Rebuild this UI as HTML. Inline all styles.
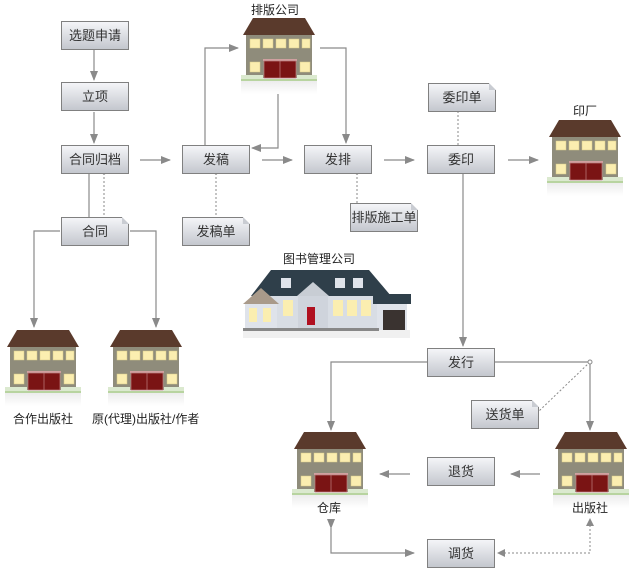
<!DOCTYPE html>
<html><head><meta charset="utf-8"><style>
body{margin:0;width:635px;height:573px;background:#fff;position:relative;overflow:hidden;font-family:"Liberation Sans","Noto Sans CJK SC",sans-serif;}
.b{position:absolute;width:66px;height:27px;border:1px solid #808080;background:linear-gradient(#f4f5f8,#c4c7ce);font-size:13px;color:#333;text-align:center;line-height:27px;box-sizing:content-box;}
.n::after{content:"";position:absolute;right:-1px;top:-1px;width:0;height:0;border-left:7px solid #c9ccd2;border-top:7px solid #fff;}
.l{position:absolute;font-size:12px;color:#222;white-space:nowrap;}
svg{position:absolute;left:0;top:0;}
</style></head><body>
<svg width="635" height="573">
<defs>
<marker id="a" markerWidth="10" markerHeight="10" refX="9" refY="5" orient="auto" markerUnits="userSpaceOnUse"><path d="M0,1 L10,5 L0,9z" fill="#8a8a8a"/></marker>
<linearGradient id="sh" x1="0" y1="0" x2="0" y2="1"><stop offset="0" stop-color="#e8e8e8"/><stop offset="1" stop-color="#fff"/></linearGradient>
<g id="h">
<rect x="0" y="60" width="76" height="16" fill="url(#sh)"/>
<polygon points="12,0 64,0 74,17 2,17" fill="#5a3a2c"/>
<rect x="5" y="17" width="66" height="43" fill="#8f8c7b"/>
<g fill="#fbeeb0" stroke="#d8c98a" stroke-width="0.5">
<rect x="9" y="21" width="10" height="9"/><rect x="22" y="21" width="10" height="9"/><rect x="35" y="21" width="10" height="9"/><rect x="48" y="21" width="10" height="9"/><rect x="61" y="21" width="8" height="9"/>
<rect x="9" y="44" width="10" height="10"/><rect x="59" y="44" width="10" height="10"/></g>
<rect x="22" y="41" width="34" height="2" fill="#d0a0a0"/>
<rect x="23" y="43" width="32" height="17" fill="#7a1414" stroke="#c08080" stroke-width="0.7"/>
<line x1="39" y1="43" x2="39" y2="60" stroke="#c08080" stroke-width="0.7"/>
<rect x="0" y="57" width="22" height="5" fill="#dbe9cf"/><rect x="56" y="57" width="20" height="5" fill="#dbe9cf"/>
<rect x="0" y="61" width="76" height="2" fill="#b8d4a0"/>
</g>
</defs>
<g stroke="#8a8a8a" stroke-width="1.2" fill="none">
<line x1="94" y1="50" x2="94" y2="80" marker-end="url(#a)"/>
<line x1="94" y1="112" x2="94" y2="143" marker-end="url(#a)"/>
<line x1="140" y1="160" x2="170" y2="160" marker-end="url(#a)"/>
<line x1="262" y1="160" x2="292" y2="160" marker-end="url(#a)"/>
<line x1="384" y1="160" x2="414" y2="160" marker-end="url(#a)"/>
<line x1="508" y1="160" x2="538" y2="160" marker-end="url(#a)"/>
<polyline points="205,145 205,48 238,48" marker-end="url(#a)"/>
<polyline points="278,90 278,148 252,148" marker-end="url(#a)"/>
<polyline points="320,48 346,48 346,143" marker-end="url(#a)"/>
<line x1="89" y1="174" x2="89" y2="217"/>
<polyline points="60,231 34,231 34,327" marker-end="url(#a)"/>
<polyline points="130,231 156,231 156,327" marker-end="url(#a)"/>
<line x1="463" y1="174" x2="463" y2="346" marker-end="url(#a)"/>
<polyline points="428,362 331,362 331,430" marker-end="url(#a)"/>
<polyline points="495,362 590,362 590,430" marker-end="url(#a)"/>
<line x1="410" y1="474" x2="380" y2="474" marker-end="url(#a)"/>
<line x1="540" y1="474" x2="511" y2="474" marker-end="url(#a)"/>
<polyline points="331,528 331,553 414,553" marker-start="url(#a)" marker-end="url(#a)"/>
</g>
<g stroke="#8a8a8a" stroke-width="1" fill="none" stroke-dasharray="2,2">
<line x1="104" y1="173" x2="104" y2="217"/>
<line x1="216" y1="173" x2="216" y2="217"/>
<line x1="357" y1="173" x2="357" y2="203"/>
<line x1="458" y1="111" x2="458" y2="148"/>
<line x1="590" y1="362" x2="538" y2="412"/>
<polyline points="500,553 590,553 590,520"/>
</g>
<path d="M497,553 L505,549 L505,557z" fill="#8a8a8a"/>
<path d="M590,518 L586,526 L594,526z" fill="#8a8a8a"/>
<g fill="#fff" stroke="#8a8a8a"><circle cx="104" cy="172" r="2"/><circle cx="216" cy="172" r="2"/><circle cx="357" cy="172" r="2"/><circle cx="458" cy="148" r="2"/><circle cx="590" cy="362" r="2"/></g>
<use href="#h" x="241" y="18"/>
<use href="#h" x="547" y="120"/>
<use href="#h" x="5" y="330"/>
<use href="#h" x="108" y="330"/>
<use href="#h" x="292" y="432"/>
<use href="#h" x="553" y="432"/>
<g transform="translate(243,270)">
<rect x="0" y="60" width="167" height="8" fill="#f0f0f0"/>
<polygon points="28,0 126,0 148,26 8,26" fill="#2f3f4a"/>
<rect x="10" y="26" width="124" height="32" fill="#d8dde4"/>
<polygon points="0,34 18,18 36,34" fill="#a99a8a"/>
<rect x="2" y="34" width="32" height="24" fill="#dfe3ea"/>
<polygon points="54,26 70,12 86,26" fill="#c8cdd4"/>
<rect x="55" y="26" width="30" height="32" fill="#cfd4dc"/>
<rect x="64" y="37" width="8" height="18" fill="#b01020"/>
<rect x="130" y="24" width="38" height="10" fill="#2f3f4a"/>
<rect x="134" y="34" width="30" height="26" fill="#dfe3ea"/>
<rect x="140" y="40" width="22" height="20" fill="#3a3330"/>
<g fill="#fbeeb0"><rect x="6" y="38" width="8" height="14"/><rect x="20" y="38" width="8" height="14"/><rect x="40" y="30" width="10" height="16"/><rect x="90" y="30" width="10" height="16"/><rect x="104" y="30" width="10" height="16"/><rect x="118" y="30" width="10" height="16"/></g>
<g fill="#dfe3ea"><rect x="38" y="8" width="10" height="10"/><rect x="92" y="8" width="10" height="10"/><rect x="110" y="8" width="10" height="10"/></g>
<rect x="0" y="58" width="136" height="3" fill="#888"/>
</g>
</svg>
<div class="b" style="left:61px;top:21px">选题申请</div>
<div class="b" style="left:61px;top:82px">立项</div>
<div class="b" style="left:61px;top:145px">合同归档</div>
<div class="b n" style="left:61px;top:217px">合同</div>
<div class="b" style="left:182px;top:145px">发稿</div>
<div class="b n" style="left:182px;top:217px">发稿单</div>
<div class="b" style="left:304px;top:145px">发排</div>
<div class="b n" style="left:350px;top:203px">排版施工单</div>
<div class="b n" style="left:428px;top:83px">委印单</div>
<div class="b" style="left:427px;top:145px">委印</div>
<div class="b" style="left:427px;top:348px">发行</div>
<div class="b n" style="left:471px;top:400px">送货单</div>
<div class="b" style="left:427px;top:457px">退货</div>
<div class="b" style="left:427px;top:539px">调货</div>
<div class="l" style="left:251px;top:1px">排版公司</div>
<div class="l" style="left:573px;top:102px">印厂</div>
<div class="l" style="left:283px;top:250px">图书管理公司</div>
<div class="l" style="left:13px;top:410px">合作出版社</div>
<div class="l" style="left:92px;top:410px">原(代理)出版社/作者</div>
<div class="l" style="left:317px;top:499px">仓库</div>
<div class="l" style="left:572px;top:499px">出版社</div>
</body></html>
